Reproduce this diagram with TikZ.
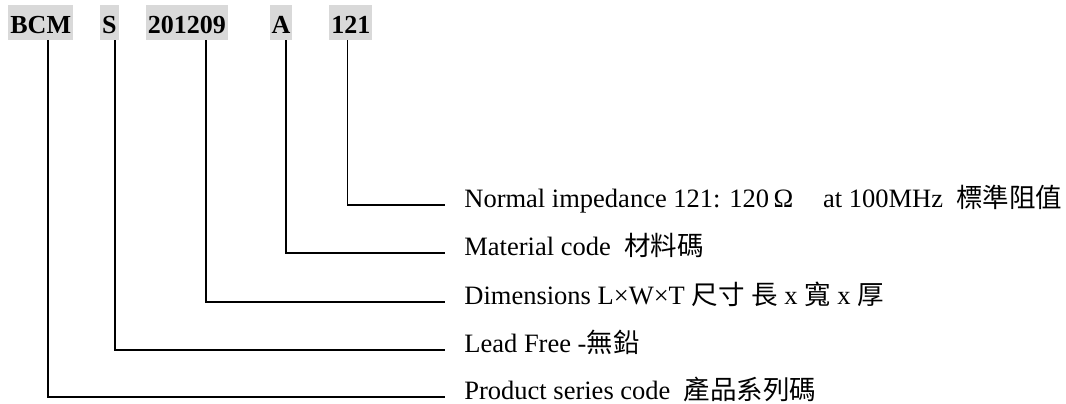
\documentclass[tikz,border=0pt]{standalone}
\usepackage{fontspec}
\setmainfont{Liberation Serif}
\newfontfamily\cjk{Noto Sans CJK TC}
\usetikzlibrary{positioning}
\definecolor{codegray}{HTML}{D9D9D9}
\tikzset{
  codebox/.style={fill=codegray, inner sep=0pt, inner xsep=1pt, text height=14pt, text depth=3.5pt, font=\bfseries\fontsize{13}{15}\selectfont},
  desc/.style={inner sep=0pt, inner xsep=9.5pt, font=\fontsize{13.25}{15}\selectfont},
  lead/.style={line width=0.9pt}
}
\begin{document}
\begin{tikzpicture}[x=0.5pt, y=-0.5pt]
  \useasboundingbox (0,0) rectangle (1066,403);
  % part number fields
  \node (bcm) [codebox, anchor=base west] at (8,33) {BCM};
  \node (lf) [codebox, right=13.15pt of bcm] {S};
  \node (size) [codebox, right=13.25pt of lf] {201209};
  \node (mat) [codebox, right=20.5pt of size] {A};
  \node (imp) [codebox, right=18.1pt of mat] {121};
  % descriptions
  \node (impd) [desc, anchor=base west] at (445,207) {Normal impedance 121: 120\,Ω\hspace{1.13em}at 100MHz\ \ {\cjk 標準阻值}};
  \node (matd) [desc, below=24pt of impd.base west, anchor=base west] {Material code\ \ {\cjk 材料碼}};
  \node (sized) [desc, below=24.5pt of matd.base west, anchor=base west] {Dimensions L×W×T {\cjk 尺寸} {\cjk 長} x {\cjk 寬} x {\cjk 厚}};
  \node (lfd) [desc, below=24pt of sized.base west, anchor=base west] {Lead Free -{\cjk 無鉛}};
  \node (bcmd) [desc, below=23.5pt of lfd.base west, anchor=base west] {Product series code\ \ {\cjk 產品系列碼}};
  % leaders
  \draw[lead] ([xshift=-1.75pt]imp.south) |- ([yshift=1pt]impd.base west);
  \draw[lead] ([xshift=2.55pt]mat.south) |- ([yshift=1pt]matd.base west);
  \draw[lead] ([xshift=9.5pt]size.south) |- ([yshift=1pt]sized.base west);
  \draw[lead] ([xshift=2.9pt]lf.south) |- ([yshift=1pt]lfd.base west);
  \draw[lead] ([xshift=3.8pt]bcm.south) |- ([yshift=1pt]bcmd.base west);
\end{tikzpicture}
\end{document}
